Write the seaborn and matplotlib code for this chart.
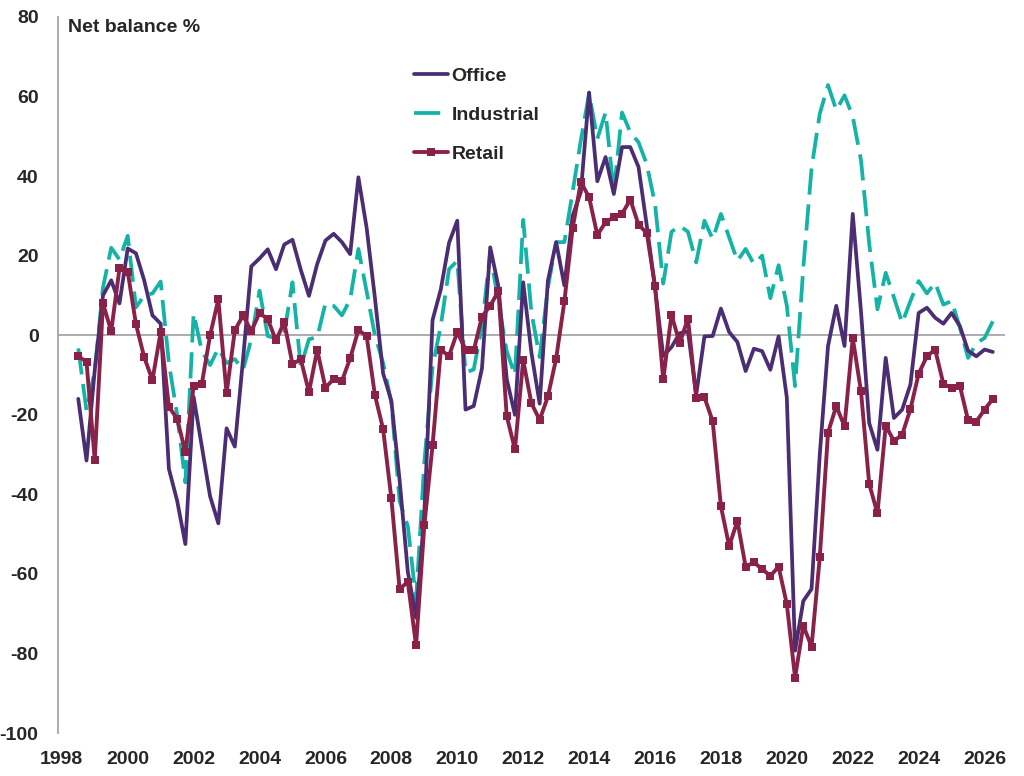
import matplotlib
matplotlib.use("Agg")
import matplotlib.pyplot as plt
import seaborn as sns
import pandas as pd

# quarterly series, 1998Q3 .. 2026Q2 (net balance %)
quarters = pd.period_range("1998Q3", "2026Q2", freq="Q")

office = [
    -16, -31.5, -8.8, 10, 13.8, 8, 21.8, 20.6, 13.8, 5,
    2.9, -33.6, -41.6, -52.5, -15.5, -28, -40.5, -47.3, -23.4, -28,
    -6, 17.3, 19.3, 21.6, 16.6, 22.8, 24, 16.5, 9.9, 17.9,
    23.8, 25.5, 23.4, 20.4, 39.7, 27, 9.5, -9.6, -16.5, -36.4,
    -59.5, -71, -45, 3.8, 11.5, 23.2, 28.8, -18.7, -17.8, -8.3,
    22.1, 12.2, -11, -20, 13.3, -4.4, -17.2, 13.7, 23.4, 12.5,
    30, 36, 61, 38.7, 44.8, 35.5, 47.3, 47.3, 42.3, 27.6,
    12, -5.2, -3, 0.5, 1, -15, -0.3, -0.2, 6.7, 0.8,
    -1.7, -9, -3.4, -4, -8.7, -0.3, -15.7, -79.3, -66.8, -63.8,
    -30, -2.7, 7.4, -2.7, 30.5, 6, -22.1, -28.8, -5.7, -20.8,
    -18.7, -12.4, 5.6, 6.9, 4.4, 2.9, 5.6, 2.3, -3.9, -5.3,
    -3.6, -4.2,
]

industrial = [
    -3.3, -19, -9, 12, 22, 19, 25, 7, 10, 10.5,
    13.5, -7, -20, -37, 5.5, -4, -7.5, -3.3, -7, -6,
    -8.7, -1, 11.2, -0.2, -0.8, 0.5, 13.3, -8, -1, -0.5,
    8, 7.4, 5, 9, 21.7, 11, 0, -7, -17, -41.7,
    -48, -66.6, -32, -8, 2.4, 16.6, 18.7, -9.4, -8.6, 2.4,
    20.8, 8.2, -4, -10, 29, 5.7, -5.5, 12, 23.4, 23.4,
    36, 49, 60.8, 49.4, 56, 36, 56, 51, 48.5, 43,
    33, 13, 26, 27.5, 26, 18.3, 28.8, 24.2, 30.5, 24.6,
    18.7, 21.7, 17.9, 20, 9.3, 17.6, 7.4, -12.8, 17, 42,
    55.7, 62.9, 56.6, 60.3, 55, 44, 23, 6.5, 15.7, 9.5,
    3.1, 8.6, 13.6, 10.5, 13.2, 7.7, 8.6, 2, -5.7, -2,
    -0.7, 3.5,
]

retail = [
    -5.3, -6.7, -31.3, 8, 1, 16.8, 16, 2.8, -5.5, -11.3,
    0.8, -18, -21, -29.4, -12.8, -12.2, 0, 9, -14.6, 1.2,
    5, 1, 5.6, 4, -1.3, 3.3, -7.3, -6, -14.3, -3.7,
    -13.2, -11, -11.5, -5.8, 1.3, -0.2, -15, -23.6, -41, -63.8,
    -62, -78, -47.8, -27.7, -3.7, -5.2, 0.8, -3.6, -3.8, 4.7,
    7.4, 11.1, -20.3, -28.7, -6.3, -17.1, -21.3, -15.4, -5.9, 8.5,
    26.9, 38.5, 34.7, 25.2, 28.4, 29.7, 30.5, 34.1, 27.8, 25.7,
    12.4, -11.1, 5.1, -2, 4.2, -15.7, -15.6, -21.6, -43, -53,
    -46.7, -58.2, -57.1, -58.8, -60.5, -58.2, -67.6, -86.1, -73, -78.3,
    -55.8, -24.5, -17.8, -22.9, -0.7, -14.1, -37.4, -44.8, -22.7, -26.6,
    -25, -18.6, -9.7, -5.3, -3.6, -12.2, -13.3, -12.7, -21.4, -21.7,
    -18.7, -16,
]

year_ticks = list(range(1998, 2027, 2))

df = pd.DataFrame({
    "t": quarters.year + (quarters.quarter - 1) / 4,
    "Office": office,
    "Industrial": industrial,
    "Retail": retail,
})

sns.set_style("white")
plt.rcParams["font.family"] = ["Liberation Sans", "DejaVu Sans"]
plt.rcParams["font.weight"] = "bold"
plt.rcParams["axes.unicode_minus"] = False

fig = plt.figure(figsize=(10.24, 7.76), dpi=100)
ax = fig.add_axes([58 / 1024, 1 - 733 / 776, (1005 - 58) / 1024, (733 - 17) / 776])

ax.axhline(0, color="#a6a6a6", lw=1.3, zorder=1)

sns.lineplot(data=df, x="t", y="Office", ax=ax, color="#4b2d73", lw=2.7,
             label="Office", zorder=3)
sns.lineplot(data=df, x="t", y="Industrial", ax=ax, color="#14b3a6", lw=2.7,
             linestyle=(0, (7, 2.6)), label="Industrial", zorder=2)
sns.lineplot(data=df, x="t", y="Retail", ax=ax, color="#8a2148", lw=2.8,
             marker="s", markersize=5.5, markeredgewidth=0, label="Retail", zorder=4)

ax.set_xlim(1997.885, 2026.62)
ax.set_ylim(-100, 80)
ax.set_yticks(range(-100, 81, 20))
ax.set_xticks(year_ticks)
ax.set_xticklabels([str(y) for y in year_ticks])
ax.tick_params(axis="both", length=0, labelsize=14)
ax.tick_params(axis="x", pad=13)
ax.tick_params(axis="y", pad=14)
for lab in ax.get_xticklabels() + ax.get_yticklabels():
    lab.set_fontweight("bold")
ax.set_xlabel("")
ax.set_ylabel("")

for side in ["top", "right", "bottom"]:
    ax.spines[side].set_visible(False)
ax.spines["left"].set_color("#a6a6a6")
ax.spines["left"].set_linewidth(1.3)

fig.text(68 / 1024, 1 - 27 / 776, "Net balance %", fontsize=14, fontweight="bold",
         va="center", ha="left")

leg = ax.legend(loc="upper left", bbox_to_anchor=(396 / 1024, 1 - 50 / 776),
                bbox_transform=fig.transFigure, frameon=False, fontsize=14,
                handlelength=1.75, handletextpad=0.2, labelspacing=1.1)
for t in leg.get_texts():
    t.set_fontweight("bold")

fig.savefig("out.png", dpi=100)
